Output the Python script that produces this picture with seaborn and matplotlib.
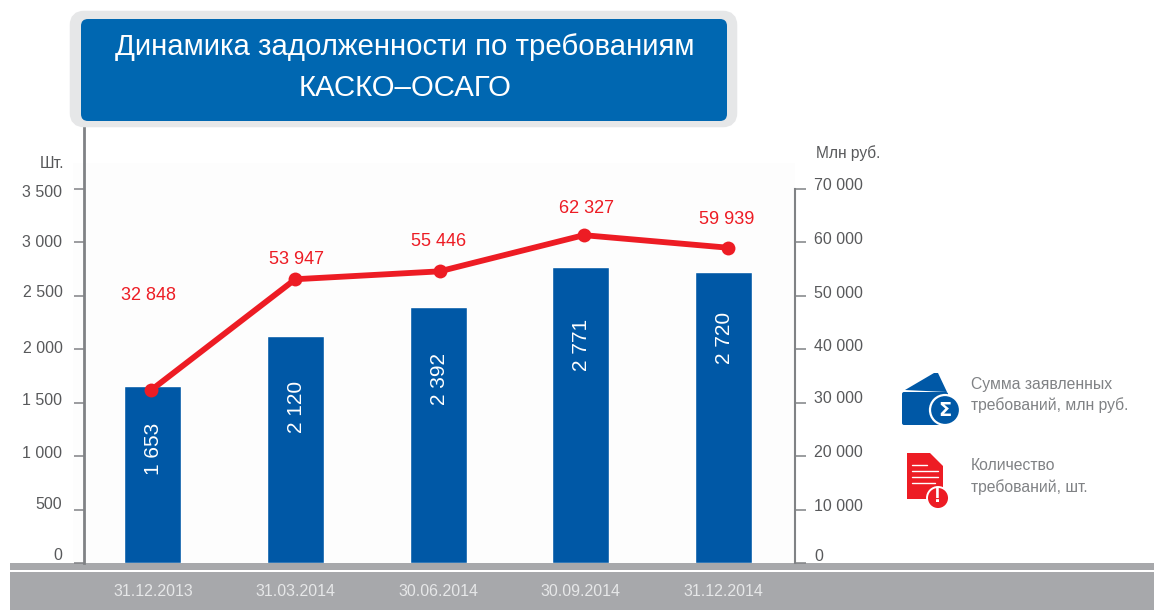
import matplotlib
matplotlib.use("Agg")
import matplotlib.pyplot as plt
from matplotlib.patches import Circle, FancyBboxPatch, Polygon, Rectangle
from matplotlib.transforms import ScaledTranslation
import numpy as np
import pandas as pd
import seaborn as sns

dates = ["31.12.2013", "31.03.2014", "30.06.2014", "30.09.2014", "31.12.2014"]
claims_count = [1653, 2120, 2392, 2771, 2720]
claims_sum = [32848, 53947, 55446, 62327, 59939]
left_ticks = [0, 500, 1000, 1500, 2000, 2500, 3000, 3500]
right_ticks = [0, 10000, 20000, 30000, 40000, 50000, 60000, 70000]

# label nudges in px, the source slide has them slightly off the ticks
count_label_drop = [63, 71, 72, 78, 66]
sum_label_rise = [95, 20, 30, 27, 28]
sum_label_shift = [-3, 1, -1, 3, -1]
left_tick_nudge = [9, 6.5, 4, 3.5, 2, 4.5, 1, -2.5]
right_tick_nudge = [8, 4.5, 5, 5.5, 4, 3.5, 4, 4.5]

BLUE = "#0058a6"
RED = "#ed1c24"
AXIS = "#808285"
TEXT = "#58595b"
BAND = "#a7a8ab"


def spaced(v):
    return f"{v:,}".replace(",", " ")


sns.set_theme(style="white")
plt.rcParams["font.family"] = ["Liberation Sans", "DejaVu Sans"]

W, H = 1154, 612
fig = plt.figure(figsize=(W / 100, H / 100), dpi=100, facecolor="white")

# slide furniture in pixel coordinates
deco = fig.add_axes([0, 0, 1, 1], zorder=0)
deco.add_patch(Rectangle((73, 163), 722, 400, fc="#fdfdfd", ec="none"))
shade = np.linspace(0.992, 0.955, 20).reshape(-1, 1)
deco.imshow(shade, extent=(84, 795, 563, 543), aspect="auto", cmap="gray", vmin=0, vmax=1)
deco.add_patch(Rectangle((10, 563), W - 10, 7, fc=BAND, ec="none"))
deco.add_patch(Rectangle((10, 572), W - 10, 38, fc=BAND, ec="none"))
deco.set_xlim(0, W)
deco.set_ylim(H, 0)
deco.axis("off")

# chart
X0, X1, Y0, Y1 = 83.5, 795, 563, 127
rect = [X0 / W, 1 - Y0 / H, (X1 - X0) / W, (Y0 - Y1) / H]
ax = fig.add_axes(rect, zorder=1)
ax.patch.set_alpha(0)
df = pd.DataFrame({"date": dates, "count": claims_count, "sum": claims_sum})
sns.barplot(data=df, x="date", y="count", color=BLUE, saturation=1, width=0.4, ax=ax)
ax.set_xlim(-0.487, 4.502)
ax.set_ylim(0, (Y0 - Y1) / (374.5 / 3500))
ax.set_xlabel("")
ax.set_ylabel("")
ax.set_yticks(left_ticks)
ax.set_yticklabels([spaced(v) for v in left_ticks])
ax.tick_params(axis="y", left=True, length=7.2, width=1.1, color=AXIS, labelcolor=TEXT,
               labelsize=11.5, pad=8)
ax.tick_params(axis="x", bottom=False, labelcolor="#e6e7e8", labelsize=11.5, pad=9)
for s in ["top", "right", "bottom"]:
    ax.spines[s].set_visible(False)
ax.spines["left"].set_color(AXIS)
ax.spines["left"].set_linewidth(2)

# right hand scale
ax2 = ax.twinx()
ax2.set_zorder(2)
ax2.set_ylim(0, (Y0 - Y1) / (374.5 / 70000))
ax2.set_yticks(right_ticks)
ax2.set_yticklabels([spaced(v) for v in right_ticks])
ax2.tick_params(axis="y", right=True, length=7.8, width=1.1, color=AXIS, labelcolor=TEXT,
                labelsize=11.5, pad=6)
for s in ["top", "left", "bottom"]:
    ax2.spines[s].set_visible(False)
ax2.spines["right"].set_color(AXIS)
ax2.spines["right"].set_linewidth(1.5)
ax2.spines["right"].set_bounds(0, 70000)

# the line on the slide has a slightly different scale from its axis and bars, so its own axes
ax3 = fig.add_axes(rect, zorder=3)
sns.lineplot(data=df, x="date", y="sum", color=RED, linewidth=4.2, marker="o", markersize=10,
             markeredgewidth=0, ax=ax3, clip_on=False)
ax3.set_xlim(-0.468, 4.464)
ax3.set_ylim(0, (Y0 - Y1) / 0.00526)
ax3.axis("off")

for lab, dy in zip(ax.get_yticklabels(), left_tick_nudge):
    lab.set_transform(lab.get_transform() + ScaledTranslation(0, dy / 100, fig.dpi_scale_trans))
for lab, dy in zip(ax2.get_yticklabels(), right_tick_nudge):
    lab.set_transform(lab.get_transform() + ScaledTranslation(0, dy / 100, fig.dpi_scale_trans))

for i, v in enumerate(claims_count):
    ax.annotate(spaced(v), (i, v), xytext=(0.7, -count_label_drop[i] * 0.72), textcoords="offset points",
                rotation=90, ha="center", va="center", color="white", fontsize=15)
for i, v in enumerate(claims_sum):
    ax3.annotate(spaced(v), (i, v), xytext=(sum_label_shift[i] * 0.72, sum_label_rise[i] * 0.72),
                 textcoords="offset points", ha="center", va="center", color=RED, fontsize=13)

# title plate
over = fig.add_axes([0, 0, 1, 1], zorder=4)
over.set_xlim(0, W)
over.set_ylim(H, 0)
over.axis("off")
over.add_patch(FancyBboxPatch((76, 17), 655, 104, boxstyle="round,pad=0,rounding_size=8",
                              fc="#e6e7e8", ec="#e6e7e8", lw=9))
over.add_patch(FancyBboxPatch((81, 19), 646, 102, boxstyle="round,pad=0,rounding_size=7",
                              fc="#0067b1", ec="none"))
over.text(405, 47, "Динамика задолженности по требованиям", ha="center", va="center",
          color="white", fontsize=21.2)
over.text(405, 88, "КАСКО–ОСАГО", ha="center", va="center", color="white", fontsize=21.2)

over.text(64, 163, "Шт.", ha="right", va="center", color=TEXT, fontsize=11.5)
over.text(816, 153, "Млн руб.", ha="left", va="center", color=TEXT, fontsize=11.2)

# legend icons
over.add_patch(Polygon([(905, 390), (934, 373), (938, 373), (947, 392)], fc=BLUE, ec="none"))
over.add_patch(FancyBboxPatch((902, 392), 46, 33, boxstyle="round,pad=0,rounding_size=2",
                              fc=BLUE, ec="none"))
over.add_patch(Circle((945, 410), 15, fc=BLUE, ec="white", lw=1.6))
over.text(945, 410, "Σ", ha="center", va="center", color="white", fontsize=14, fontweight="bold",
          family="DejaVu Sans")
over.add_patch(Polygon([(907, 453), (930, 453), (943, 466), (943, 499), (907, 499)], fc=RED, ec="none"))
for y, x_end in [(465, 927), (471, 938), (477, 938), (483, 935)]:
    over.plot([912, x_end], [y, y], color="white", lw=1)
over.add_patch(Circle((938, 498), 11, fc=RED, ec="white", lw=1.4))
over.text(938, 497, "!", ha="center", va="center", color="white", fontsize=15, fontweight="bold")

legend_font = dict(ha="left", va="center", color=AXIS, fontsize=11.3)
over.text(971, 384, "Сумма заявленных", **legend_font)
over.text(971, 405, "требований, млн руб.", **legend_font)
over.text(971, 466, "Количество", **legend_font)
over.text(971, 487, "требований, шт.", **legend_font)

fig.savefig("out.png", dpi=100)
